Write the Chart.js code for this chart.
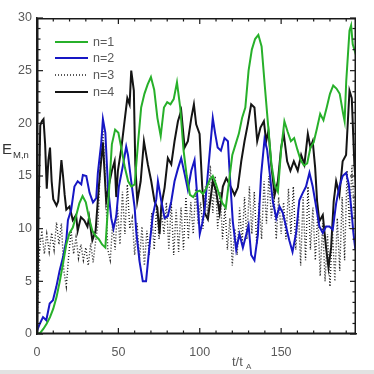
<!DOCTYPE html>
<html>
<head>
<meta charset="utf-8">
<script src="https://cdn.jsdelivr.net/npm/chart.js@4.4.1/dist/chart.umd.min.js"></script>
<style>
  html, body { margin: 0; padding: 0; background: #fff; }
  #wrap { width: 374px; height: 374px; position: relative; }
</style>
</head>
<body>
<div id="wrap"><canvas id="energyChart"></canvas></div>
<script>
// tick labels
const xTickLabels = [0, 50, 100, 150];
const yTickLabels = [0, 5, 10, 15, 20, 25, 30];
const seriesNames = ['n=1', 'n=2', 'n=3', 'n=4'];

// n=1 (green)
const n1T = [0, 2, 4, 6, 8, 10, 12, 14, 16, 18, 20, 22, 24, 26, 28, 30, 32, 34, 36, 38, 40, 42, 44, 46, 48, 50,
  52, 54, 56, 58, 60, 62, 64, 66, 68, 70, 72, 74, 76, 78, 80, 82, 84, 86, 88, 90, 92, 94, 96, 98, 100,
  102, 104, 106, 108, 110, 112, 114, 116, 118, 120, 122, 124, 126, 128, 130, 132, 134, 136, 138, 140,
  142, 144, 146, 148, 150, 152, 154, 156, 158, 160, 162, 164, 166, 168, 170, 172, 174, 176, 178, 180,
  182, 184, 186, 188, 189, 190, 192, 193, 194, 196];
const n1E = [0, 0.1, 0.5, 1.0, 1.6, 2.4, 3.5, 5.0, 6.7, 8.5, 9.6, 10.1, 11.2, 12.4, 13.1, 12.5, 11.0, 9.8, 9.3, 9.0, 8.5, 8.2, 13, 18, 19.4, 19.1,
  17.5, 15.8, 14.5, 14.0, 14.2, 18, 21.5, 22.8, 23.7, 24.4, 23.2, 20.5, 18.8, 21.5, 22, 21.8, 22.3, 23.9, 21.5, 17.5, 15, 13.2, 13.0, 13.5, 13.6,
  13.3, 13.8, 14.6, 15.0, 14.2, 13.2, 12.4, 12.0, 14.5, 17, 18, 19, 20.5, 21.5, 25, 27, 28.0, 28.4, 27.3, 23.5,
  19.8, 16.2, 14.2, 13.5, 17.5, 20.2, 19.2, 18.3, 18.6, 17.5, 16.5, 16.0, 16.2, 17.7, 18.2, 19.5, 20.9, 20.3, 21.5, 22.8,
  23.6, 23.3, 22.8, 21.0, 20.2, 24, 28.8, 29.3, 27.5, 26.5];

// n=2 (blue)
const n2T = [0, 1.5, 3.7, 5.7, 7.8, 9.8, 11.9, 13.9, 16, 18, 19, 21, 23, 25, 27.2, 28.2, 30.3, 32.3, 34.4, 36.4, 37.4, 39.5, 40.5, 42, 43.6,
  45.6, 47, 48.7, 50.3, 52.8, 54.8, 55.9, 57.9, 60, 61, 63, 65, 67, 69.2, 71.2, 73.3, 74.3, 76.4, 78.4, 80.4, 82.5, 84.5, 86.6, 88.6,
  90.7, 92.7, 94.8, 96.8, 98.5, 100, 101.5, 103, 106, 108, 109.5, 111, 113, 115.2, 117.3, 118.3, 120.3, 122.4, 124.4, 126.5, 128.5,
  130, 131.6, 133.6, 135.7, 137.7, 139.8, 141.4, 142.8, 144.9, 147, 149, 151, 153, 155, 157, 159.2, 161.2, 163.3, 165.3, 167.4,
  169.4, 171.5, 173.5, 175.6, 177.6, 179.7, 181.7, 183.8, 185.8, 187.8, 189.9, 191.5, 193, 194.4, 195.6];
const n2E = [0.3, 0.9, 1.6, 1.3, 2.9, 3.2, 4.5, 6.0, 7.3, 8.9, 10.8, 11.8, 14.0, 14.5, 14.2, 15.1, 15.0, 13.4, 12.5, 12.9, 15.3, 18.2, 20.4, 19.1, 14,
  11.0, 10.0, 11.2, 14, 16, 17.8, 17, 14.5, 12, 9.7, 6.9, 5.0, 5.0, 8.5, 11.3, 12.8, 14.5, 12.6, 11, 11.2, 12.6, 14.5, 15.7, 16.7,
  15.2, 13.7, 15.5, 16.5, 13, 9.5, 10.5, 11.8, 17.0, 20.5, 19, 17.7, 17.4, 18.6, 18.3, 15.5, 10.7, 8.0, 9.5, 8.2, 9.4,
  10.3, 7.5, 7.0, 9.4, 15.1, 18.5, 17.5, 15.5, 12.6, 11, 12.1, 11.5, 10.2, 8.9, 7.8, 9.6, 12.7, 13.4, 14, 15.3,
  14, 12.1, 10.2, 9.6, 10.2, 10.2, 9.9, 12.4, 14, 15, 15.3, 14.3, 12.1, 9.6, 8.0];

// n=3 (dotted)
const n3T = [0, 1.5, 3, 4.5, 6, 7.5, 9, 10.5, 12, 13.5, 15, 16.5, 18, 19.5, 21, 22.5, 24, 25.5, 27, 28.5, 30, 31.5, 33, 34.5, 36, 37.5,
  39, 40.5, 42, 43.5, 45, 46.5, 48, 49.5, 51, 52.5, 54, 55.5, 57, 58.5, 60, 61.5, 63, 64.5, 66, 67.5, 69, 70.5, 72, 73.5, 75, 76.5,
  78, 79.5, 81, 82.5, 84, 85.5, 87, 88.5, 90, 91.5, 93, 94.5, 96, 97.5, 99, 100.5, 102, 103.5, 105, 106.5, 108, 109.5, 111, 112.5,
  114, 115.5, 117, 118.5, 120, 121.5, 123, 124.5, 126, 127.5, 129, 130.5, 132, 133.5, 135, 136.5, 138, 139.5, 141, 142.5, 144, 145.5,
  147, 148.5, 150, 151.5, 153, 154.5, 156, 157.5, 159, 160.5, 162, 163.5, 165, 166.5, 168, 169.5, 171, 172.5, 174, 175.5, 177, 178.5,
  180, 181.5, 183, 184.5, 186, 187.5, 189, 190.5, 192, 193.5, 195];
const n3E = [0.5, 8, 9.8, 7.6, 9.5, 7.8, 9.6, 8.0, 10.6, 8.5, 10.5, 6.0, 4.5, 7.5, 9.8, 7.6, 9.2, 7.2, 8.5, 7.0, 8.2, 6.5, 8.6, 6.8, 8.8, 10.5,
  16.5, 19.5, 14.5, 8.0, 7.0, 10.5, 8.0, 12.0, 8.5, 13.5, 9.5, 14.2, 10.0, 11.0, 7.5, 10.5, 7.0, 10.2, 6.5, 9.8, 7.5, 11.5, 8.0, 12.0, 9.0, 11.5,
  9.5, 12.5, 8.0, 12.5, 7.5, 11.8, 7.8, 12.0, 8.0, 13.0, 9.0, 12.5, 9.5, 13.8, 10.5, 12.5, 10.0, 14.0, 11.0, 16.0, 11.5, 15.0, 10.0, 13.5,
  9.0, 12.0, 8.0, 11.0, 6.5, 10.0, 7.5, 12.0, 8.5, 13.0, 9.0, 14.0, 9.5, 13.5, 8.5, 12.5, 9.0, 14.5, 10.5, 15.0, 11.0, 13.5,
  9.0, 13.0, 9.5, 12.5, 9.0, 13.8, 9.5, 14.0, 8.0, 12.0, 6.5, 13.0, 7.0, 14.0, 8.0, 12.0, 7.0, 11.5, 5.5, 10.5, 5.0, 9.5,
  4.5, 10.0, 5.0, 11.0, 6.0, 13.0, 7.0, 15.5, 10.0, 16.0, 11.0];

// n=4 (black)
const n4T = [0, 1, 2, 3, 4, 5, 6, 7, 8, 9, 10, 12, 13, 14, 15, 16, 17, 18, 20, 22, 24, 25, 27, 29, 31, 32, 34, 36, 38, 39.5, 40.5,
  42.5, 44, 46, 47.7, 48.7, 49.7, 51.8, 53.8, 55.5, 56.9, 57.9, 59.5, 60.4, 61.6, 63.7, 65.7, 68.1, 70.2, 72.2, 73.9, 75.3, 76.4,
  78.4, 80.4, 82.5, 84.5, 86.6, 88.6, 90.7, 92.7, 94.8, 96.4, 97.8, 99.9, 101.5, 103, 105, 108, 110, 112.2, 114.2, 116.3, 119.3,
  121.4, 123.4, 125.5, 127.5, 129.5, 131.6, 133.6, 135.3, 137.3, 139.4, 140.8, 142.2, 143.9, 146, 148, 150, 151.6, 153.7, 155.7,
  157.8, 160.2, 162.3, 164.3, 166.4, 168, 169.4, 170.9, 172.1, 173.5, 175.6, 177.6, 179.1, 180.7, 182.3, 183.8, 185.8, 187.8,
  189.9, 192, 193.4, 195, 196];
const n4E = [0.5, 12, 19.8, 20.2, 20.4, 18.0, 13.8, 16.5, 17.7, 14.5, 12.8, 12.2, 12.6, 14.5, 16.5, 15.0, 13.2, 11.8, 12.1, 10.8, 11.3, 9.8, 11.1, 10.8, 10.2, 11.1, 8.9, 9.8, 14.0, 16.6, 18.2,
  12.6, 14.0, 15.5, 16.4, 13.0, 15.5, 17.6, 20.2, 22.4, 21.8, 25.0, 23.1, 16.1, 12.6, 14.5, 18.3, 16.1, 14.5, 12.6, 12, 9.5, 12.2,
  13.9, 16.7, 16.1, 18.3, 20.2, 21.2, 17.7, 18.3, 20.5, 21.8, 19.9, 19.0, 14, 11.5, 10.9, 14.5, 13.6, 11.5, 14.0, 14.8, 13.9,
  13.2, 13.9, 16.4, 18.3, 19.9, 21.8, 21.5, 18.3, 19.6, 20.2, 18.3, 19.3, 16.1, 13.2, 14.5, 17.7, 19.0, 16.4, 15.5,
  16.4, 15.5, 17, 16.1, 19.0, 17.7, 18.3, 15.8, 12.6, 10.7, 11.3, 8.2, 6.3, 8.2, 12.6, 14.5, 13.2, 16.4,
  17, 23.1, 22.4, 16.1, 14];

const toPoints = (ts, es) => ts.map((t, i) => ({ x: t, y: es[i] }));

const FONT = '"Liberation Sans", Arial, sans-serif';
const TEXT = '#5a5a5a';

const styles = [
  { color: '#27b02a', width: 2, dash: [] },
  { color: '#1717c4', width: 2, dash: [] },
  { color: '#222222', width: 1.4, dash: [1, 2] },
  { color: '#141414', width: 2, dash: [] }
];

// frame, inward ticks, axis titles and legend
const decorPlugin = {
  id: 'decor',
  afterDraw(chart) {
    const ctx = chart.ctx;
    const a = chart.chartArea;
    const xs = chart.scales.x, ys = chart.scales.y;
    ctx.save();
    ctx.fillStyle = '#1a1a1a';
    ctx.fillRect(a.left, a.top, a.right - a.left, 1.5);
    ctx.fillRect(a.left, a.bottom - 1.5, a.right - a.left, 1.5);
    ctx.fillRect(a.left, a.top, 1.5, a.bottom - a.top);
    ctx.fillRect(a.right - 1.5, a.top, 1.5, a.bottom - a.top);
    xTickLabels.concat([10, 20, 30, 40, 60, 70, 80, 90, 110, 120, 130, 140, 160, 170, 180, 190]).forEach(v => {
      const px = xs.getPixelForValue(v);
      const len = v % 50 === 0 ? 6 : 3.5;
      ctx.fillRect(px - 0.6, a.bottom - len, 1.2, len);
      ctx.fillRect(px - 0.6, a.top, 1.2, len);
    });
    for (let v = 0; v <= 30; v += 1) {
      const py = ys.getPixelForValue(v);
      const len = v % 5 === 0 ? 6 : 3.5;
      ctx.fillRect(a.left, py - 0.6, len, 1.2);
      ctx.fillRect(a.right - len, py - 0.6, len, 1.2);
    }

    // axis titles
    ctx.fillStyle = '#333';
    ctx.textBaseline = 'alphabetic';
    ctx.textAlign = 'left';
    ctx.font = '15px ' + FONT;
    ctx.fillText('E', 2, 154);
    ctx.font = '9.5px ' + FONT;
    ctx.fillText('M,n', 13, 158);
    ctx.font = '13px ' + FONT;
    ctx.fillStyle = TEXT;
    ctx.fillText('t/t', 232, 366);
    ctx.font = '8px ' + FONT;
    ctx.fillText('A', 246, 369);

    // legend
    const rows = [42, 58, 75, 92];
    ctx.font = '12.5px ' + FONT;
    ctx.textBaseline = 'middle';
    chart.data.datasets.forEach((ds, i) => {
      ctx.beginPath();
      ctx.strokeStyle = ds.borderColor;
      ctx.lineWidth = ds.borderWidth;
      ctx.setLineDash(ds.borderDash);
      ctx.moveTo(55, rows[i]); ctx.lineTo(88, rows[i]);
      ctx.stroke();
      ctx.setLineDash([]);
      ctx.fillStyle = TEXT;
      ctx.fillText(ds.label, 93, rows[i] + 1);
    });

    ctx.fillStyle = '#e2e2e2';
    ctx.fillRect(0, 370, 374, 4);
    ctx.restore();
  }
};

new Chart(document.getElementById('energyChart'), {
  type: 'line',
  data: {
    datasets: [n1E, n2E, n3E, n4E].map((es, i) => ({
      label: seriesNames[i],
      data: toPoints([n1T, n2T, n3T, n4T][i], es),
      borderColor: styles[i].color,
      borderWidth: styles[i].width,
      borderDash: styles[i].dash,
      pointRadius: 0,
      tension: 0,
      fill: false
    }))
  },
  options: {
    responsive: true,
    maintainAspectRatio: false,
    animation: false,
    layout: { padding: { top: 18, right: 18, left: 0, bottom: 0 } },
    plugins: { legend: { display: false } },
    scales: {
      x: {
        type: 'linear',
        min: 0,
        max: 196,
        grid: { display: false, drawTicks: false },
        border: { display: true, color: '#1a1a1a', width: 1.5 },
        afterBuildTicks: s => { s.ticks = xTickLabels.map(v => ({ value: v })); },
        afterFit: s => { s.height = 40; },
        ticks: { color: TEXT, font: { family: FONT, size: 12.5 }, padding: 11, maxRotation: 0 }
      },
      y: {
        min: 0,
        max: 30,
        grid: { display: false, drawTicks: false },
        border: { display: true, color: '#1a1a1a', width: 1.5 },
        afterBuildTicks: s => { s.ticks = yTickLabels.map(v => ({ value: v })); },
        afterFit: s => { s.width = 37; },
        ticks: { color: TEXT, font: { family: FONT, size: 12.5 }, padding: 5 }
      }
    }
  },
  plugins: [decorPlugin]
});
</script>
</body>
</html>
